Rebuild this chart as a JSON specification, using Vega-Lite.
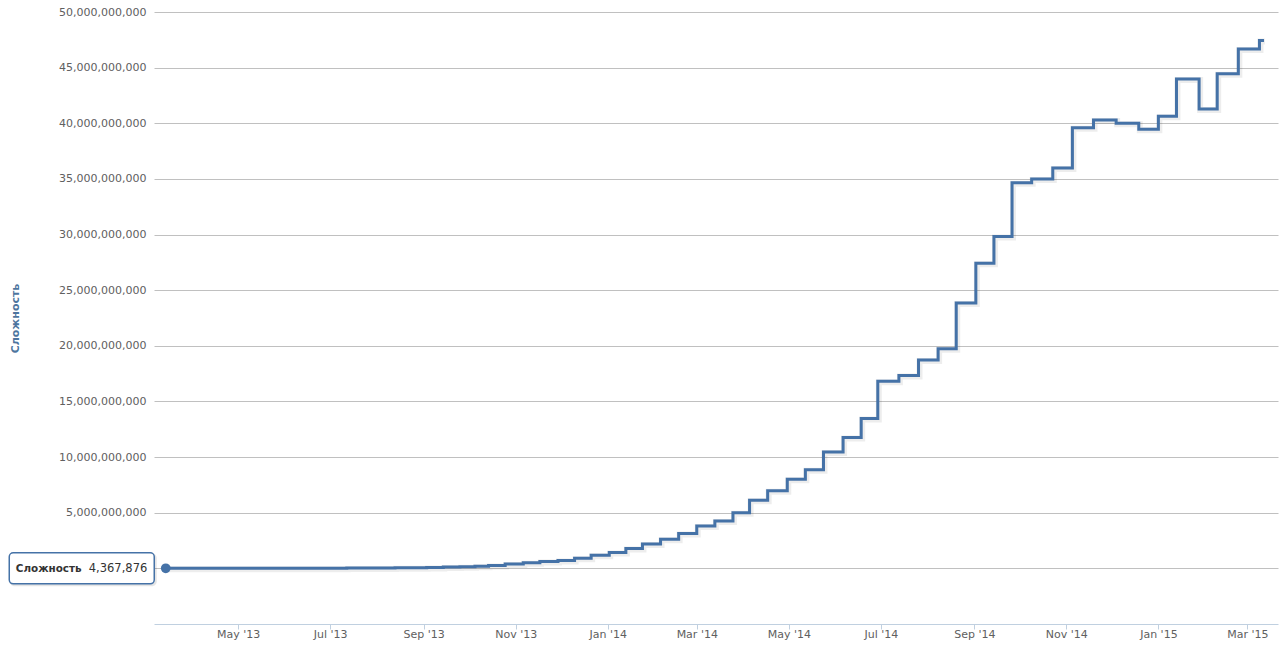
{
  "$schema": "https://vega.github.io/schema/vega-lite/v6.json",
  "width": 1124,
  "height": 612,
  "autosize": {"type": "none"},
  "padding": {"left": 154, "top": 12, "right": 9, "bottom": 29},
  "background": "white",
  "config": {"view": {"stroke": null}, "font": "DejaVu Sans"},
  "datasets": {
    "difficulty": [
      {"date": "2013-03-14", "value": 4367876},
      {"date": "2013-03-25", "value": 6695826},
      {"date": "2013-04-05", "value": 7672999},
      {"date": "2013-04-16", "value": 8974296},
      {"date": "2013-04-27", "value": 10076292},
      {"date": "2013-05-08", "value": 11187257},
      {"date": "2013-05-19", "value": 12153411},
      {"date": "2013-05-30", "value": 14484893},
      {"date": "2013-06-10", "value": 15605632},
      {"date": "2013-06-20", "value": 19339258},
      {"date": "2013-07-01", "value": 21335329},
      {"date": "2013-07-12", "value": 26162876},
      {"date": "2013-07-23", "value": 31256960},
      {"date": "2013-08-02", "value": 37392766},
      {"date": "2013-08-13", "value": 50810339},
      {"date": "2013-08-24", "value": 65750060},
      {"date": "2013-09-03", "value": 86933017},
      {"date": "2013-09-14", "value": 112628548},
      {"date": "2013-09-25", "value": 148819199},
      {"date": "2013-10-05", "value": 189281249},
      {"date": "2013-10-14", "value": 267731249},
      {"date": "2013-10-25", "value": 390928787},
      {"date": "2013-11-06", "value": 510929738},
      {"date": "2013-11-17", "value": 606156100},
      {"date": "2013-11-29", "value": 707408283},
      {"date": "2013-12-10", "value": 908350862},
      {"date": "2013-12-21", "value": 1180923195},
      {"date": "2014-01-02", "value": 1418481395},
      {"date": "2014-01-13", "value": 1789546951},
      {"date": "2014-01-24", "value": 2193847870},
      {"date": "2014-02-05", "value": 2621404453},
      {"date": "2014-02-17", "value": 3129573175},
      {"date": "2014-03-01", "value": 3815723798},
      {"date": "2014-03-13", "value": 4250217920},
      {"date": "2014-03-25", "value": 5006860589},
      {"date": "2014-04-05", "value": 6119726089},
      {"date": "2014-04-17", "value": 6978842650},
      {"date": "2014-04-30", "value": 8000872136},
      {"date": "2014-05-12", "value": 8853416309},
      {"date": "2014-05-24", "value": 10455720138},
      {"date": "2014-06-06", "value": 11756551916},
      {"date": "2014-06-18", "value": 13462580115},
      {"date": "2014-06-29", "value": 16818461371},
      {"date": "2014-07-13", "value": 17336316979},
      {"date": "2014-07-26", "value": 18736441558},
      {"date": "2014-08-08", "value": 19729645941},
      {"date": "2014-08-20", "value": 23844670039},
      {"date": "2014-09-02", "value": 27428630902},
      {"date": "2014-09-14", "value": 29829733124},
      {"date": "2014-09-26", "value": 34661425924},
      {"date": "2014-10-09", "value": 35002482026},
      {"date": "2014-10-23", "value": 35985640265},
      {"date": "2014-11-05", "value": 39603666252},
      {"date": "2014-11-19", "value": 40300030238},
      {"date": "2014-12-04", "value": 40007470271},
      {"date": "2014-12-19", "value": 39457671307},
      {"date": "2015-01-01", "value": 40640955016},
      {"date": "2015-01-13", "value": 43971662056},
      {"date": "2015-01-28", "value": 41272873894},
      {"date": "2015-02-09", "value": 44455415962},
      {"date": "2015-02-23", "value": 46684376316},
      {"date": "2015-03-09", "value": 47427554951},
      {"date": "2015-03-12", "value": 47427554951}
    ],
    "first": [
      {"date": "2013-03-14", "value": 4367876, "series": "Сложность"}
    ]
  },
  "encoding": {
    "x": {
      "field": "date",
      "type": "temporal",
      "scale": {
        "type": "utc",
        "domain": [
          {"year": 2013, "month": 3, "date": 6, "hours": 5, "utc": true},
          {"year": 2015, "month": 3, "date": 21, "hours": 7, "utc": true}
        ]
      },
      "axis": {
        "title": null,
        "format": "%b '%y",
        "values": [
          {"year": 2013, "month": 5, "date": 1, "utc": true},
          {"year": 2013, "month": 7, "date": 1, "utc": true},
          {"year": 2013, "month": 9, "date": 1, "utc": true},
          {"year": 2013, "month": 11, "date": 1, "utc": true},
          {"year": 2014, "month": 1, "date": 1, "utc": true},
          {"year": 2014, "month": 3, "date": 1, "utc": true},
          {"year": 2014, "month": 5, "date": 1, "utc": true},
          {"year": 2014, "month": 7, "date": 1, "utc": true},
          {"year": 2014, "month": 9, "date": 1, "utc": true},
          {"year": 2014, "month": 11, "date": 1, "utc": true},
          {"year": 2015, "month": 1, "date": 1, "utc": true},
          {"year": 2015, "month": 3, "date": 1, "utc": true}
        ],
        "grid": false,
        "domainColor": "#C0D0E0",
        "tickColor": "#C0D0E0",
        "tickSize": 5,
        "labelColor": "#606060",
        "labelFont": "DejaVu Sans",
        "labelFontSize": 11,
        "labelPadding": 8,
        "labelBaseline": "alphabetic",
        "labelFlush": false,
        "labelOverlap": false
      }
    },
    "y": {
      "field": "value",
      "type": "quantitative",
      "scale": {"domain": [-5000000000, 50000000000], "nice": false, "zero": false},
      "axis": {
        "title": "Сложность",
        "titleColor": "#4d759e",
        "titleFont": "DejaVu Sans",
        "titleFontWeight": "bold",
        "titleFontSize": 11,
        "titlePadding": 38,
        "values": [0, 5000000000, 10000000000, 15000000000, 20000000000, 25000000000, 30000000000, 35000000000, 40000000000, 45000000000, 50000000000],
        "labelExpr": "datum.value == 0 ? '' : format(datum.value, ',')",
        "domain": false,
        "ticks": false,
        "tickSize": 0,
        "labelPadding": 8,
        "grid": true,
        "gridColor": "#C0C0C0",
        "gridWidth": 1,
        "labelColor": "#606060",
        "labelFont": "DejaVu Sans",
        "labelFontSize": 11
      }
    }
  },
  "layer": [
    {
      "data": {"name": "difficulty"},
      "mark": {"type": "line", "interpolate": "step-after", "stroke": "#000000", "strokeOpacity": 0.07, "strokeWidth": 6, "xOffset": 1, "yOffset": 1}
    },
    {
      "data": {"name": "difficulty"},
      "mark": {"type": "line", "interpolate": "step-after", "stroke": "#4572A7", "strokeWidth": 3}
    },
    {
      "data": {"name": "first"},
      "mark": {"type": "rect", "width": 147, "height": 33, "xOffset": -82.5, "yOffset": 1.5, "cornerRadius": 5, "fill": "#000000", "fillOpacity": 0.1, "stroke": null}
    },
    {
      "data": {"name": "first"},
      "mark": {"type": "rect", "width": 145, "height": 31, "xOffset": -84, "cornerRadius": 4, "fill": "#ffffff", "fillOpacity": 1, "stroke": "#4572A7", "strokeWidth": 1.5}
    },
    {
      "data": {"name": "first"},
      "mark": {"type": "point", "filled": true, "size": 95, "color": "#4572A7", "opacity": 1}
    },
    {
      "data": {"name": "first"},
      "mark": {"type": "text", "align": "left", "baseline": "alphabetic", "dx": -150, "dy": 4, "font": "DejaVu Sans", "fontWeight": "bold", "fontSize": 10.4, "color": "#333333"},
      "encoding": {"text": {"field": "series"}}
    },
    {
      "data": {"name": "first"},
      "mark": {"type": "text", "align": "left", "baseline": "alphabetic", "dx": -77, "dy": 4, "font": "DejaVu Sans", "fontSize": 11.5, "color": "#333333"},
      "encoding": {"text": {"field": "value", "format": ","}}
    }
  ]
}
